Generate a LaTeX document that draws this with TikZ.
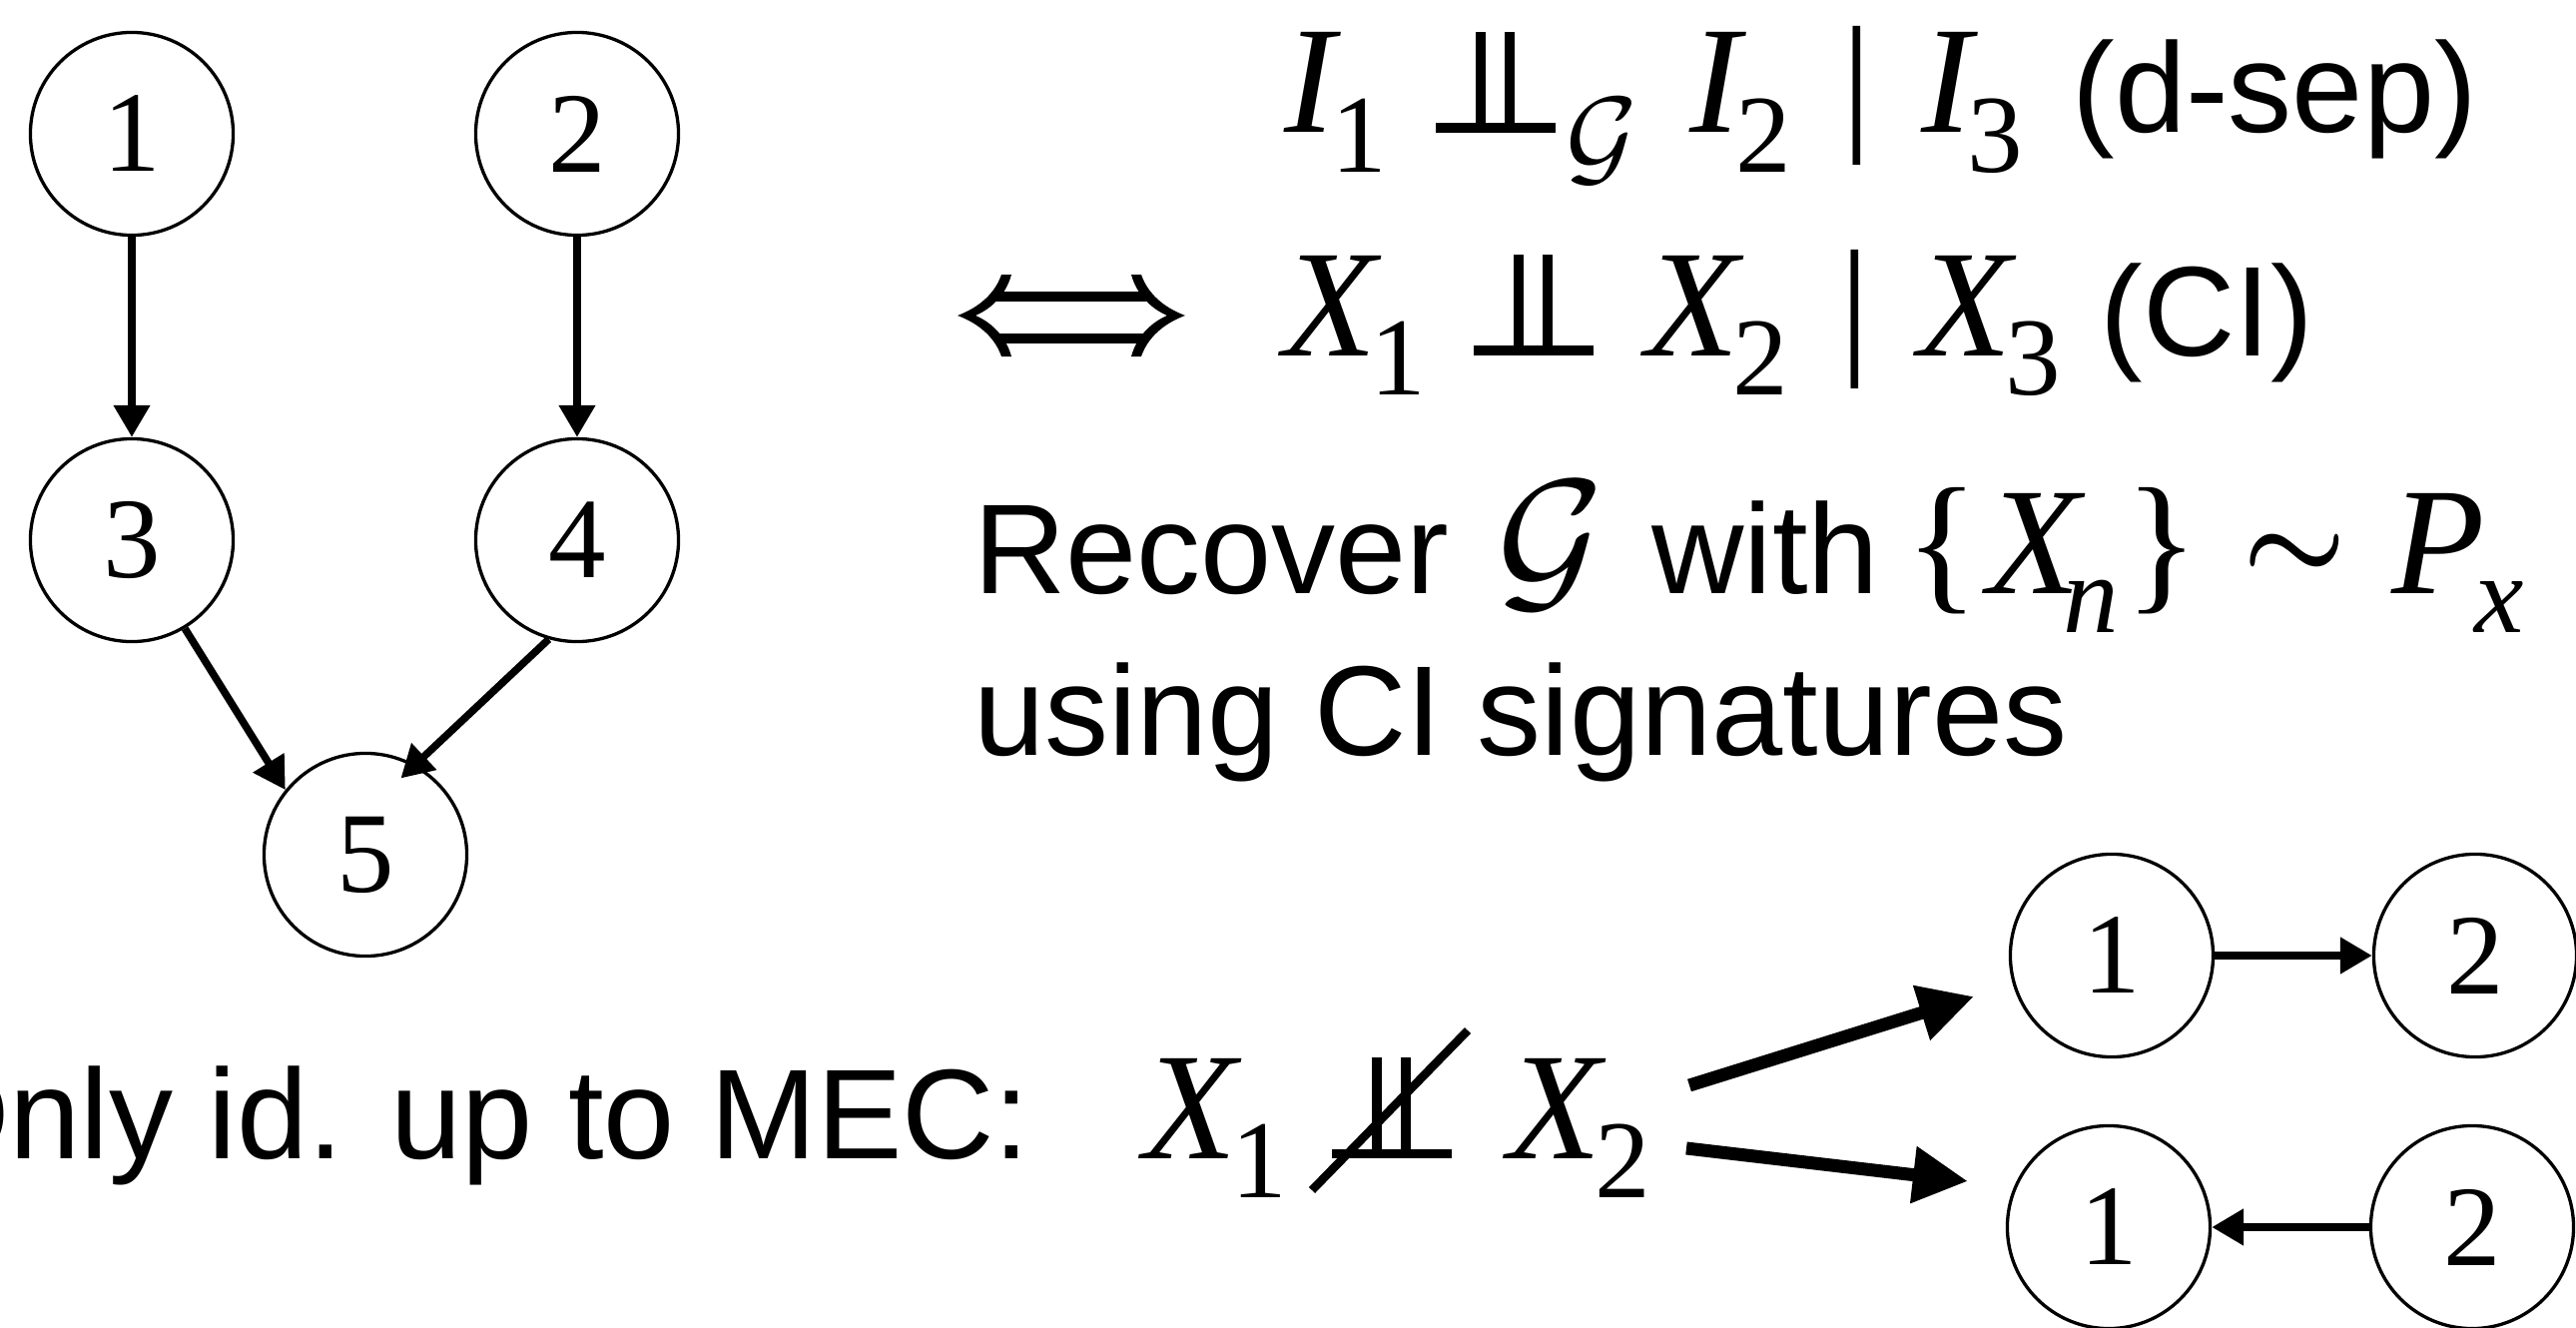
\documentclass[tikz,border=0pt]{standalone}
\usepackage{fontspec}
\usepackage{graphicx}
\setmainfont{Liberation Serif}
\newfontfamily\arialf{Liberation Sans}
\usetikzlibrary{arrows.meta}
\newcommand\mfont{\fontsize{43.5pt}{50pt}\selectfont}
\newcommand\sfont{\fontsize{31.6pt}{36pt}\selectfont}
\newcommand\tfont{\arialf\fontsize{36.4pt}{42pt}\selectfont}
\newcommand\dfont{\fontsize{32.7pt}{36pt}\selectfont}
\newcommand\bx[2]{\makebox[#1][l]{#2}}
\newcommand\mvar[1]{{\mfont\itshape #1}}
\newcommand\subx[1]{\raisebox{-0.39cm}{\sfont #1}}
\newcommand\bigG{\scalebox{4.67}{\normalsize$\mathcal{G}$}}
\newcommand\smallG{\raisebox{-0.40cm}{\scalebox{3.12}{\normalsize$\mathcal{G}$}}}
\newcommand\simsym{\raisebox{0.13cm}{\scalebox{3.3}{\normalsize\boldmath$\sim$}}}
\newcommand\indepsym{\makebox[1.20cm][l]{\rule{1.20cm}{0.095cm}\hspace{-0.80cm}\rule{0.10cm}{1.01cm}\hspace{0.19cm}\rule{0.10cm}{1.01cm}}}
\tikzset{
  gnode/.style={circle, draw, line width=0.033cm, minimum size=2.03cm, inner sep=0pt, font=\dfont},
  garrow/.style={line width=0.075cm, -{Triangle[length=0.32cm,width=0.35cm]}},
  bigarrow/.style={line width=0.13cm, -{Triangle[length=0.55cm,width=0.54cm]}},
  txt/.style={inner sep=0pt, outer sep=0pt, anchor=base west}
}
\begin{document}
\begin{tikzpicture}[x=0.01cm, y=-0.01cm]
\useasboundingbox (0,0) rectangle (2580,1330);
% left DAG
\node[gnode] (n1) at (132,134) {1};
\node[gnode] (n2) at (578,134) {2};
\node[gnode] (n3) at (132,541) {3};
\node[gnode] (n4) at (578,541) {4};
\node[gnode] (n5) at (366,856) {5};
\draw[garrow] (n1.south) -- (n3.north);
\draw[garrow] (n2.south) -- (n4.north);
\draw[garrow] (n3.301) -- (n5.141);
\draw[garrow, shorten >=-0.2cm] (n4.254) -- (n5.61);
% formulas
\node[txt] (l1) at (1286,133) {\bx{0.47cm}{\mvar{I}}\bx{1.05cm}{\subx{1}}\bx{1.30cm}{\indepsym}\bx{1.24cm}{\smallG}\bx{0.46cm}{\mvar{I}}\bx{1.06cm}{\subx{2}}\bx{0.80cm}{\mfont|}\bx{0.46cm}{\mvar{I}}\bx{1.05cm}{\subx{3}}{\tfont(d-sep)}};
\node[txt] (l2) at (1285,356) {\bx{0.87cm}{\mvar{X}}\bx{1.04cm}{\subx{1}}\bx{1.72cm}{\indepsym}\bx{0.87cm}{\mvar{X}}\bx{1.07cm}{\subx{2}}\bx{0.79cm}{\mfont|}\bx{0.87cm}{\mvar{X}}\bx{0.95cm}{\subx{3}}{\tfont(CI)}};
% iff symbol
\fill (1003,275) .. controls (995,298) and (975,310) .. (959,316) .. controls (975,322) and (995,334) .. (1003,357) -- (1013,357) .. controls (1007,335) and (991,322) .. (977,316) .. controls (991,310) and (1007,297) .. (1013,275) -- cycle;
\fill (1143,275) .. controls (1151,298) and (1171,310) .. (1187,316) .. controls (1171,322) and (1151,334) .. (1143,357) -- (1133,357) .. controls (1139,335) and (1155,322) .. (1169,316) .. controls (1155,310) and (1139,297) .. (1133,275) -- cycle;
\draw[line width=0.09cm] (998,297) -- (1148,297) (998,339) -- (1148,339);
\node[txt] (l3) at (975,594) {\bx{5.24cm}{\tfont Recover}\bx{1.55cm}{\bigG}\bx{2.54cm}{\tfont with}\bx{0.82cm}{\mfont\{}\bx{0.76cm}{\mvar{X}}\bx{0.62cm}{\subx{\itshape n}}\bx{1.18cm}{\mfont\}}\bx{1.49cm}{\simsym}\bx{0.83cm}{\mvar{P}}\subx{\itshape x}};
\node[txt] (l4) at (975,756) {\tfont using CI signatures};
% bottom line
\node[txt] (mec) at (-90,1160) {\tfont Only id. up to MEC:};
\node[txt] (dep) at (1145,1160) {\bx{0.88cm}{\mvar{X}}\bx{1.01cm}{\subx{1}}\bx{1.76cm}{\indepsym}\bx{0.87cm}{\mvar{X}}\subx{2}};
\coordinate (sla) at (1314,1192);
\coordinate (slb) at (1470,1032);
\draw[line width=0.085cm] (sla) -- (slb);
% MEC graphs
\node[gnode] (u1) at (2115,957) {1};
\node[gnode] (u2) at (2479,957) {2};
\node[gnode] (d1) at (2112,1229) {1};
\node[gnode] (d2) at (2476,1229) {2};
\draw[garrow, line width=0.08cm] (u1.east) -- (u2.west);
\draw[garrow, line width=0.08cm] (d2.west) -- (d1.east);
\coordinate (s1) at (1692,1087);
\coordinate (t1) at (1977,998);
\coordinate (s2) at (1689,1150);
\coordinate (t2) at (1971,1183);
\draw[bigarrow] (s1) -- (t1);
\draw[bigarrow] (s2) -- (t2);
\end{tikzpicture}
\end{document}
